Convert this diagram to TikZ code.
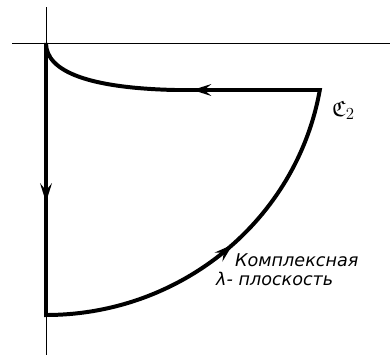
\documentclass[tikz,border=0pt]{standalone}
\usepackage{amssymb}
\usepackage{fontspec}
\usetikzlibrary{arrows.meta,decorations.markings}
\newfontfamily\planefont{DejaVu Sans}
\tikzset{
  axis line/.style={draw=black,line width=0.8pt},
  contour line/.style={draw=black,line width=3.4pt,line join=miter},
  flow tip/.style={decoration={markings,mark=at position #1 with
    {\arrow{Stealth[length=16pt,width=10pt,inset=6pt]}}},decorate},
  plane label/.style={inner sep=0pt,anchor=base west,
    font=\planefont\itshape\fontsize{15}{15}\selectfont}
}
\begin{document}
\begin{tikzpicture}[x=0.03cm,y=-0.03cm]
  \useasboundingbox (0,0) rectangle (390,357);
  % axes
  \coordinate (xstart) at (12,43);
  \coordinate (xend) at (390,43);
  \coordinate (ytop) at (46,7);
  \coordinate (ybot) at (46,355);
  \draw[axis line] (xstart) -- (xend);
  \draw[axis line] (ytop) -- (ybot);
  % contour
  \coordinate (O) at (46,43);
  \coordinate (B) at (46,315);
  \coordinate (A) at (320,90);
  \coordinate (C) at (175,90);
  \draw[contour line] (O) -- (B)
    arc[start angle=90,end angle=9.95,x radius=278,y radius=272]
    -- (C) .. controls (90,88) and (46,72) .. cycle;
  \draw[contour line,flow tip=0.585] (O) -- (B);
  \draw[contour line,flow tip=0.53] (B)
    arc[start angle=90,end angle=9.95,x radius=278,y radius=272];
  \draw[contour line,flow tip=0.88] (A) -- (C);
  % labels
  \node[inner sep=0pt,anchor=base west,font=\fontsize{19}{19}\selectfont]
    (cname) at (332,116) {$\mathfrak{C}_2$};
  \node[plane label] (planeA) at (235,266) {Комплексная};
  \node[plane label] (planeB) at (216,285) {λ- плоскость};
\end{tikzpicture}
\end{document}
